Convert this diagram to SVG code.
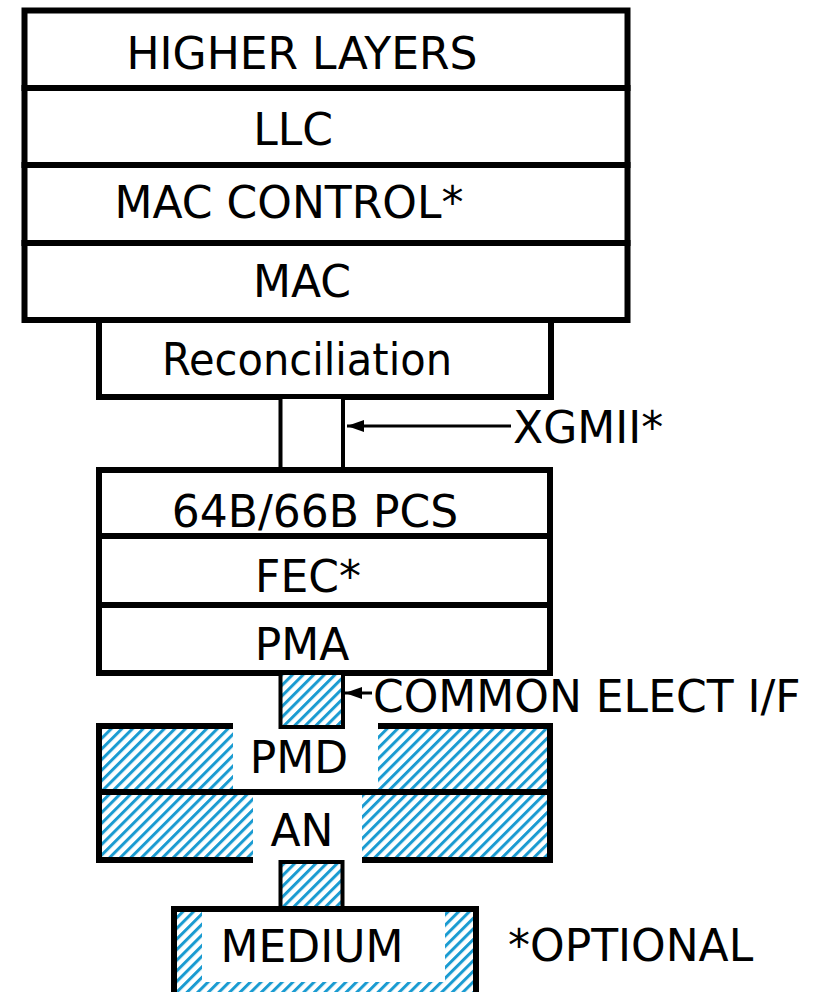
<svg xmlns="http://www.w3.org/2000/svg" width="814" height="992" viewBox="0 0 814 992">
<style>
.box{fill:#fff;stroke:#000;stroke-width:6}
.hbox{fill:url(#hatch);stroke:#000;stroke-width:6}
.small{fill:#fff;stroke:#000;stroke-width:4}
.hsmall{fill:url(#hatch);stroke:#000;stroke-width:4}
.gap{fill:#fff;stroke:none}
.t{font-family:"DejaVu Sans",Verdana,sans-serif;font-size:44px;fill:#000}
.m{text-anchor:middle}
.conn{stroke:#000;stroke-width:3;fill:none}
</style>
<defs>
<pattern id="hatch" width="7.5" height="7.5" patternUnits="userSpaceOnUse" patternTransform="rotate(45)">
<rect width="7.5" height="7.5" fill="#fff"/>
<rect width="3" height="7.5" fill="#1a9bd1"/>
</pattern>
<marker id="arr" markerWidth="17" markerHeight="12" refX="17" refY="6" orient="auto" markerUnits="userSpaceOnUse">
<path d="M0,0 L17,6 L0,12 Z" fill="#000"/>
</marker>
</defs>

<g id="higher-layers"><rect class="box" x="24.5" y="10.5" width="603" height="77.5"/><text class="t m" x="302" y="69">HIGHER LAYERS</text></g>
<g id="llc"><rect class="box" x="24.5" y="88" width="603" height="77"/><text class="t m" x="293" y="145">LLC</text></g>
<g id="mac-control"><rect class="box" x="24.5" y="165" width="603" height="78"/><text class="t m" x="289" y="218">MAC CONTROL*</text></g>
<g id="mac"><rect class="box" x="24.5" y="243" width="603" height="77"/><text class="t m" x="302" y="297">MAC</text></g>
<g id="reconciliation"><rect class="box" x="99" y="320" width="452" height="77"/><text class="t m" x="307" y="375" textLength="290" lengthAdjust="spacingAndGlyphs">Reconciliation</text></g>
<g id="xgmii"><rect class="small" x="280.5" y="397" width="62.5" height="72"/><text class="t" x="513" y="443">XGMII*</text></g>
<g id="pcs"><rect class="box" x="99" y="470" width="451" height="66"/><text class="t m" x="315" y="527">64B/66B PCS</text></g>
<g id="fec"><rect class="box" x="99" y="536" width="451" height="69"/><text class="t m" x="308" y="592">FEC*</text></g>
<g id="pma"><rect class="box" x="99" y="605" width="451" height="68"/><text class="t m" x="302" y="660">PMA</text></g>
<g id="pmd"><rect class="hbox" x="99" y="726" width="451" height="66"/><rect class="gap" x="233" y="719" width="145" height="70"/><text class="t m" x="299" y="773">PMD</text></g>
<g id="an"><rect class="hbox" x="99" y="792" width="451" height="68"/><rect class="gap" x="253" y="795" width="109" height="70"/><text class="t m" x="302" y="846">AN</text></g>
<g id="common-elect-if"><rect class="hsmall" x="280.5" y="673" width="62.5" height="54"/><text class="t" x="373" y="712">COMMON ELECT I/F</text></g>
<g id="mdi"><rect class="hsmall" x="280.5" y="862" width="62" height="47"/></g>
<g id="medium"><rect class="hbox" x="174" y="909" width="302" height="95"/><rect class="gap" x="202" y="912" width="243" height="70"/><text class="t m" x="312" y="962">MEDIUM</text></g>
<g id="legend"><text class="t" x="508" y="961">*OPTIONAL</text></g>

<g id="connectors">
<line class="conn" x1="511" y1="426" x2="347" y2="426" marker-end="url(#arr)"/>
<line class="conn" x1="372" y1="693" x2="345" y2="693" marker-end="url(#arr)"/>
</g>
</svg>
